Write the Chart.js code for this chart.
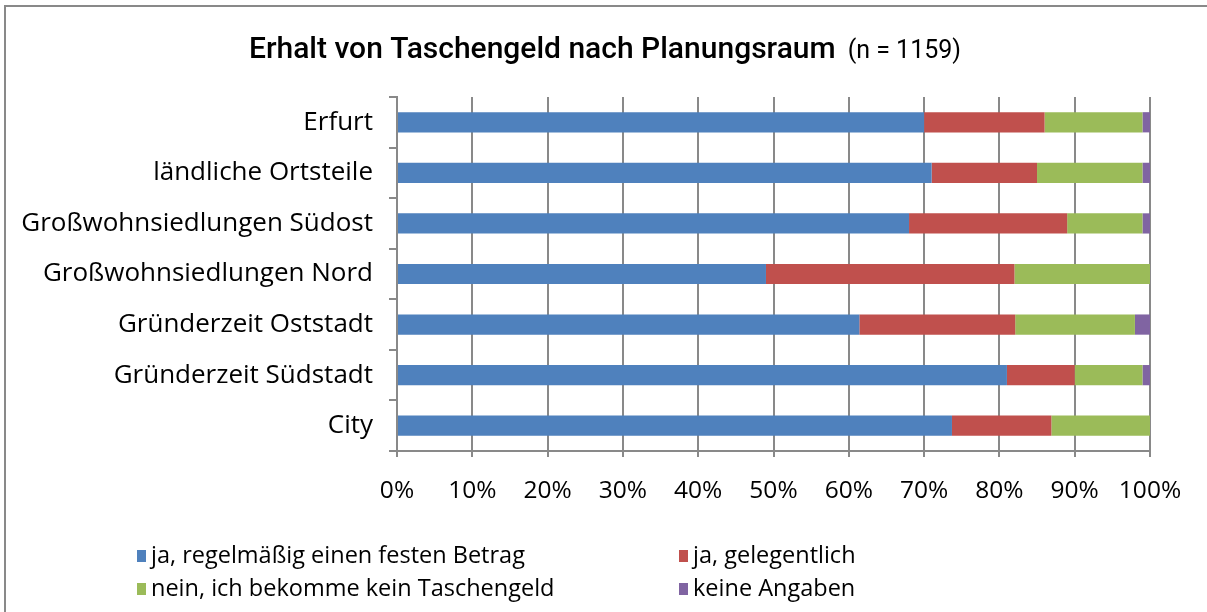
<!DOCTYPE html>
<html>
<head>
<meta charset="utf-8">
<script src="https://cdn.jsdelivr.net/npm/chart.js@4.4.0/dist/chart.umd.min.js"></script>
<style>
  html, body { margin: 0; padding: 0; background: #fff; }
  #wrap { width: 1207px; height: 612px; }
</style>
</head>
<body>
<div id="wrap"><canvas id="chart" width="1207" height="612"></canvas></div>
<script>
// data (percent of respondents)
var categories = ["Erfurt", "ländliche Ortsteile", "Großwohnsiedlungen Südost",
    "Großwohnsiedlungen Nord", "Gründerzeit Oststadt", "Gründerzeit Südstadt", "City"];
var regelmaessig = [70, 71, 68, 49, 61.4, 81, 73.7];
var gelegentlich = [16, 14, 21, 33, 20.7, 9, 13.2];
var keinTaschengeld = [13, 14, 10, 18, 15.9, 9, 13.1];
var keineAngaben = [1, 1, 1, 0, 2, 1, 0];
var seriesNames = ["ja, regelmäßig einen festen Betrag", "ja, gelegentlich",
    "nein, ich bekomme kein Taschengeld", "keine Angaben"];
var seriesColors = ["#4F81BD", "#C0504D", "#9BBB59", "#8064A2"];
var xTicks = [0, 10, 20, 30, 40, 50, 60, 70, 80, 90, 100];
var titleMain = "Erhalt von Taschengeld nach Planungsraum";
var titleSub = "(n = 1159)";

var FONT = "'Open Sans', sans-serif";
var GRID = "#898989";

var values = [regelmaessig, gelegentlich, keinTaschengeld, keineAngaben];
var datasets = [];
for (var i = 0; i < values.length; i++) {
    datasets.push({
        label: seriesNames[i],
        data: values[i],
        backgroundColor: seriesColors[i],
        borderWidth: 0,
        barPercentage: 0.4,
        categoryPercentage: 1.0
    });
}

// frame, title and the two-column legend
var decor = {
    id: 'decor',
    beforeDraw: function(chart) {
        var ctx = chart.ctx;
        ctx.save();
        ctx.fillStyle = "#fff";
        ctx.fillRect(0, 0, chart.width, chart.height);
        ctx.strokeStyle = GRID;
        ctx.lineWidth = 2;
        ctx.beginPath();
        ctx.moveTo(5, chart.height);
        ctx.lineTo(5, 6);
        ctx.lineTo(chart.width, 6);
        ctx.stroke();
        ctx.restore();
    },
    afterDraw: function(chart) {
        var ctx = chart.ctx;
        ctx.save();
        ctx.fillStyle = "#000";
        ctx.textBaseline = "alphabetic";
        ctx.font = "500 30px Roboto";
        var w1 = ctx.measureText(titleMain).width;
        ctx.font = "25px Roboto";
        var w2 = ctx.measureText(titleSub).width;
        var x0 = 605 - (w1 + 12 + w2) / 2;
        ctx.font = "500 30px Roboto";
        ctx.fillText(titleMain, x0, 58);
        ctx.font = "25px Roboto";
        ctx.fillText(titleSub, x0 + w1 + 12, 58);

        ctx.font = "23.5px " + FONT;
        ctx.textBaseline = "middle";
        chart.data.datasets.forEach(function(ds, k) {
            var x = (k % 2) ? 679 : 137;
            var y = (k < 2) ? 556 : 589;
            ctx.fillStyle = ds.backgroundColor;
            ctx.fillRect(x, y - 6, 9, 12);
            ctx.fillStyle = "#000";
            ctx.fillText(ds.label, x + 14, y);
        });
        ctx.restore();
    }
};

var chart = new Chart(document.getElementById("chart").getContext("2d"), {
    type: 'bar',
    data: { labels: categories, datasets: datasets },
    plugins: [decor],
    options: {
        indexAxis: 'y',
        responsive: false,
        animation: false,
        layout: { padding: { top: 97, right: 57, bottom: 111, left: 0 } },
        plugins: { legend: { display: false }, title: { display: false }, tooltip: { enabled: false } },
        scales: {
            x: {
                stacked: true,
                min: 0,
                max: 100,
                afterBuildTicks: function(s) {
                    s.ticks = xTicks.map(function(v) { return { value: v }; });
                },
                afterFit: function(s) { s.height = 50; },
                ticks: {
                    callback: function(v) { return v + "%"; },
                    color: "#000",
                    font: { family: FONT, size: 24.5 },
                    padding: 19
                },
                grid: { color: GRID, lineWidth: 2, tickLength: 6 },
                border: { color: GRID, width: 2 }
            },
            y: {
                stacked: true,
                afterFit: function(s) { s.width = 397; },
                ticks: {
                    color: "#000",
                    font: { family: FONT, size: 26 },
                    padding: 16
                },
                grid: { offset: true, drawOnChartArea: false, tickLength: 8, color: GRID, lineWidth: 2 },
                border: { color: GRID, width: 2 }
            }
        }
    }
});
</script>
</body>
</html>
